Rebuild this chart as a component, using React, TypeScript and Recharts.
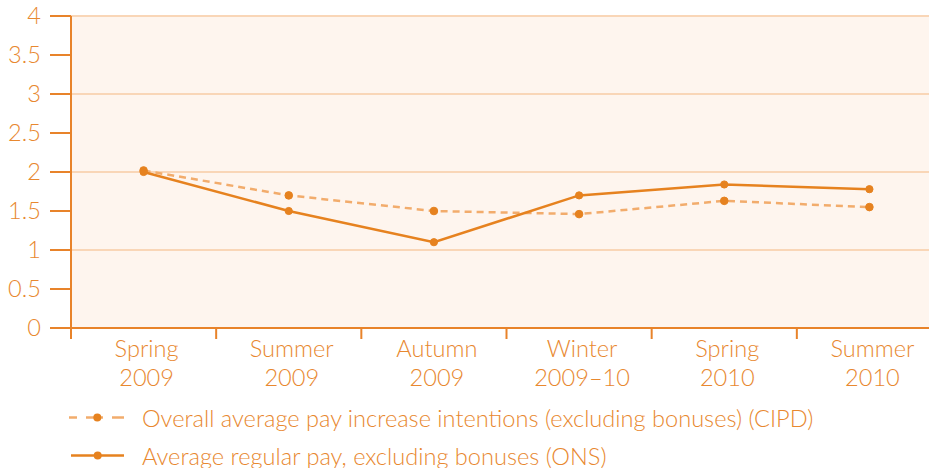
import React from 'react';
import { LineChart, Line, XAxis, YAxis, CartesianGrid } from 'recharts';

const seasons = ['Spring', 'Summer', 'Autumn', 'Winter', 'Spring', 'Summer'];
const years = ['2009', '2009', '2009', '2009–10', '2010', '2010'];
const cipd = [2.02, 1.7, 1.5, 1.46, 1.63, 1.55];
const ons = [2.0, 1.5, 1.1, 1.7, 1.84, 1.78];
const yTicks = [0, 0.5, 1, 1.5, 2, 2.5, 3, 3.5, 4];
const gridValues = [1, 2, 3, 4];
const legendCipd = 'Overall average pay increase intentions (excluding bonuses) (CIPD)';
const legendOns = 'Average regular pay, excluding bonuses (ONS)';

const data = seasons.map((s, i) => ({
  cat: `${s} ${years[i]}`,
  idx: i,
  cipd: cipd[i],
  ons: ons[i],
}));

const AXIS = '#E8832A';
const TEXT = '#E8882F';
const LINE = '#E6821F';
const DASH = '#F2AC6C';
const GRID = '#F9D6B7';
const BG = '#FEF5EE';
const FONT = 'Lato, "Open Sans", sans-serif';
const FS = 23.6;
const FW = 300;

const XTick = (props: any) => {
  const { x, y, payload, width } = props;
  const idx = data.findIndex((d) => d.cat === payload.value);
  const half = payload.offset ? payload.offset : width / (2 * data.length);
  return (
    <g>
      <line x1={x - half} x2={x - half} y1={y} y2={y + 11} stroke={AXIS} strokeWidth={2} />
      <text x={x} y={y} textAnchor="middle" fill={TEXT} fontSize={FS} fontWeight={FW} fontFamily={FONT}>
        <tspan x={x + 3} dy={29}>{seasons[idx]}</tspan>
        <tspan x={x + 3} dy={29}>{years[idx]}</tspan>
      </text>
    </g>
  );
};

const legendText: React.CSSProperties = {
  position: 'absolute',
  left: 142,
  top: 0,
  lineHeight: '38px',
  fontSize: FS,
  fontWeight: FW,
  color: TEXT,
  whiteSpace: 'nowrap',
};

export default function App() {
  return (
    <div
      style={{
        position: 'absolute',
        left: 0,
        top: 0,
        width: 929,
        height: 468,
        overflow: 'hidden',
        background: '#fff',
        fontFamily: FONT,
      }}
    >
      <LineChart
        width={945}
        height={468}
        data={data}
        margin={{ top: 16, right: 3, bottom: 70, left: 0 }}
        style={{ fontFamily: FONT }}
      >
        <CartesianGrid
          vertical={false}
          horizontalValues={gridValues}
          stroke={GRID}
          strokeWidth={2}
          fill={BG}
          fillOpacity={1}
        />
        <XAxis
          dataKey="cat"
          scale="band"
          interval={0}
          tickLine={false}
          tickSize={0}
          tickMargin={0}
          height={70}
          axisLine={{ stroke: AXIS, strokeWidth: 2 }}
          tick={<XTick />}
        />
        <YAxis
          domain={[0, 4]}
          ticks={yTicks}
          width={71}
          tickSize={21}
          tickMargin={9}
          interval={0}
          axisLine={{ stroke: AXIS, strokeWidth: 2 }}
          tickLine={{ stroke: AXIS, strokeWidth: 2 }}
          tick={{ fill: TEXT, fontSize: FS, fontWeight: FW, fontFamily: FONT }}
        />
        <Line
          type="linear"
          dataKey="cipd"
          stroke={DASH}
          strokeWidth={2.5}
          strokeDasharray="7 5"
          dot={{ r: 3.8, fill: LINE, stroke: LINE, strokeWidth: 1, strokeDasharray: '' }}
          isAnimationActive={false}
        />
        <Line
          type="linear"
          dataKey="ons"
          stroke={LINE}
          strokeWidth={2.5}
          dot={{ r: 3.6, fill: LINE, stroke: LINE, strokeWidth: 1 }}
          isAnimationActive={false}
        />
      </LineChart>
      <div style={{ position: 'absolute', left: 0, top: 399, width: 929 }}>
        <div style={{ position: 'relative', height: 38 }}>
          <svg width={70} height={38} style={{ position: 'absolute', left: 60, top: 0 }}>
            <line x1={9} x2={17} y1={18.5} y2={18.5} stroke={DASH} strokeWidth={2.5} />
            <line x1={26} x2={43} y1={18.5} y2={18.5} stroke={DASH} strokeWidth={2.5} />
            <line x1={52} x2={64} y1={18.5} y2={18.5} stroke={DASH} strokeWidth={2.5} />
            <circle cx={37.3} cy={18.5} r={4} fill={LINE} />
          </svg>
          <span style={legendText}>{legendCipd}</span>
        </div>
        <div style={{ position: 'relative', height: 38 }}>
          <svg width={70} height={38} style={{ position: 'absolute', left: 60, top: 0 }}>
            <line x1={11} x2={64} y1={18.5} y2={18.5} stroke={LINE} strokeWidth={2.5} />
            <circle cx={37.7} cy={18.5} r={4} fill={LINE} />
          </svg>
          <span style={legendText}>{legendOns}</span>
        </div>
      </div>
    </div>
  );
}
